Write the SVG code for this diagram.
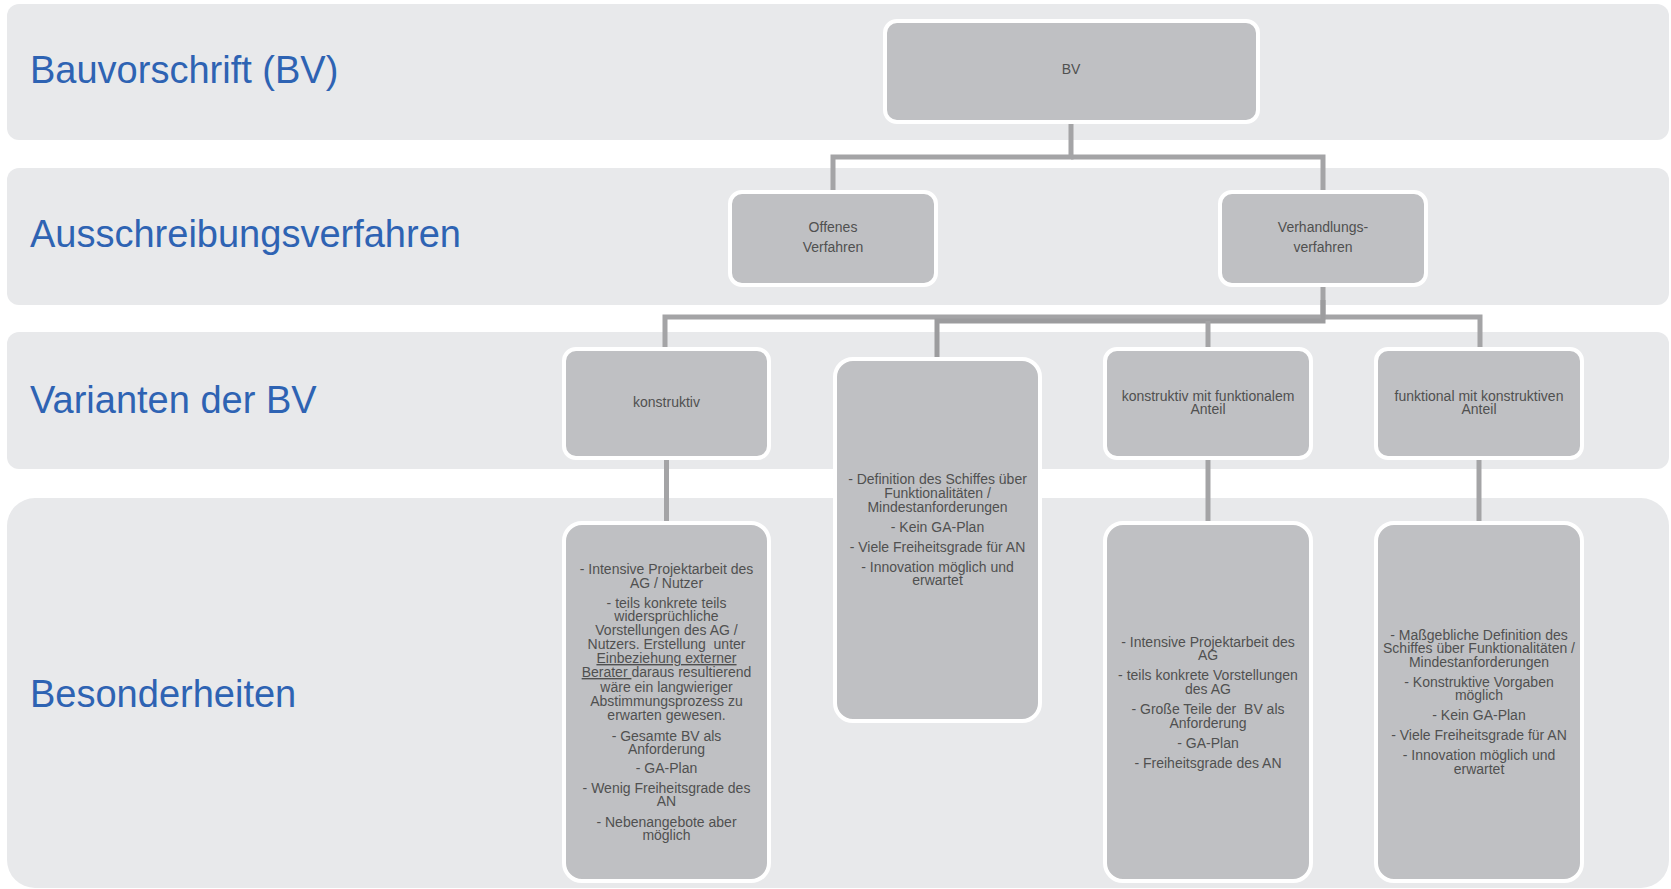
<svg xmlns="http://www.w3.org/2000/svg" width="1671" height="889" viewBox="0 0 1671 889">
<style>
.band{fill:#e8e9eb}
.lbl{font-family:"Liberation Sans",Arial,sans-serif;font-size:38px;fill:#2e63b3}
.box{fill:#bfc0c3;stroke:#ffffff;stroke-width:4}
.t{font-family:"Liberation Sans",Arial,sans-serif;font-size:14px;fill:#505050;text-anchor:middle}
.c{fill:none;stroke:#a4a4a6;stroke-width:5}
.cd{fill:none;stroke:#9c9c9e;stroke-width:5}
.u{text-decoration:underline}
</style>
<rect width="1671" height="889" fill="#ffffff"/>
<g id="lane-bv"><rect class="band" x="7" y="4" width="1662" height="136" rx="12"/><text class="lbl" x="30" y="83">Bauvorschrift (BV)</text></g>
<g id="lane-verfahren"><rect class="band" x="7" y="168" width="1662" height="137" rx="12"/><text class="lbl" x="30" y="247">Ausschreibungsverfahren</text></g>
<g id="lane-varianten"><rect class="band" x="7" y="332" width="1662" height="137" rx="12"/><text class="lbl" x="30" y="413">Varianten der BV</text></g>
<g id="lane-besonderheiten"><rect class="band" x="7" y="498" width="1662" height="390" rx="28"/><text class="lbl" x="30" y="707">Besonderheiten</text></g>

<g id="connectors">
<path class="c" d="M1071 124 V157 H833 V190"/>
<path class="c" d="M1071 157 H1323 V190"/>
<path class="c" d="M1323 287 V317 H665 V347"/>
<path class="c" d="M1323 317 H1480 V347"/>
<path class="cd" d="M1323 300 V321 H937 V357"/>
<path class="c" d="M1208 321 V347"/>
<path class="c" d="M666.5 460 V521"/>
<path class="c" d="M1208 460 V521"/>
<path class="c" d="M1479 460 V521"/>
</g>

<g id="node-bv"><rect class="box" x="885" y="21" width="373" height="101" rx="12"/><text class="t" x="1071" y="74">BV</text></g>
<g id="node-offen"><rect class="box" x="730" y="192" width="206" height="93" rx="12"/><text class="t" x="833" y="232">Offenes</text><text class="t" x="833" y="252">Verfahren</text></g>
<g id="node-verhandlung"><rect class="box" x="1220" y="192" width="206" height="93" rx="12"/><text class="t" x="1323" y="232">Verhandlungs-</text><text class="t" x="1323" y="252">verfahren</text></g>

<g id="node-konstruktiv"><rect class="box" x="564" y="349" width="205" height="109" rx="12"/><text class="t" x="666.5" y="407">konstruktiv</text></g>
<g id="node-funktional"><rect class="box" x="835" y="359" width="205" height="362" rx="18"/>
<text class="t" x="937.5" y="484">- Definition des Schiffes über</text>
<text class="t" x="937.5" y="498">Funktionalitäten /</text>
<text class="t" x="937.5" y="511.5">Mindestanforderungen</text>
<text class="t" x="937.5" y="531.5">- Kein GA-Plan</text>
<text class="t" x="937.5" y="551.5">- Viele Freiheitsgrade für AN</text>
<text class="t" x="937.5" y="571.5">- Innovation möglich und</text>
<text class="t" x="937.5" y="585">erwartet</text>
</g>
<g id="node-konstr-funkt"><rect class="box" x="1105" y="349" width="206" height="109" rx="12"/><text class="t" x="1208" y="401">konstruktiv mit funktionalem</text><text class="t" x="1208" y="414">Anteil</text></g>
<g id="node-funkt-konstr"><rect class="box" x="1376" y="349" width="206" height="109" rx="12"/><text class="t" x="1479" y="401">funktional mit konstruktiven</text><text class="t" x="1479" y="414">Anteil</text></g>

<g id="node-bes-konstruktiv"><rect class="box" x="564" y="523" width="205" height="358" rx="18"/>
<text class="t" x="666.5" y="574">- Intensive Projektarbeit des</text>
<text class="t" x="666.5" y="587.5">AG / Nutzer</text>
<text class="t" x="666.5" y="607.5">- teils konkrete teils</text>
<text class="t" x="666.5" y="621">widersprüchliche</text>
<text class="t" x="666.5" y="635">Vorstellungen des AG /</text>
<text class="t" x="666.5" y="649">Nutzers. Erstellung&#160; unter</text>
<text class="t" x="666.5" y="663"><tspan class="u">Einbeziehung externer</tspan></text>
<text class="t" x="666.5" y="677"><tspan class="u">Berater </tspan>daraus resultierend</text>
<text class="t" x="666.5" y="691.5">wäre ein langwieriger</text>
<text class="t" x="666.5" y="705.5">Abstimmungsprozess zu</text>
<text class="t" x="666.5" y="720">erwarten gewesen.</text>
<text class="t" x="666.5" y="740.5">- Gesamte BV als</text>
<text class="t" x="666.5" y="753.5">Anforderung</text>
<text class="t" x="666.5" y="772.5">- GA-Plan</text>
<text class="t" x="666.5" y="792.5">- Wenig Freiheitsgrade des</text>
<text class="t" x="666.5" y="806">AN</text>
<text class="t" x="666.5" y="826.5">- Nebenangebote aber</text>
<text class="t" x="666.5" y="840">möglich</text>
</g>
<g id="node-bes-konstr-funkt"><rect class="box" x="1105" y="523" width="206" height="358" rx="18"/>
<text class="t" x="1208" y="646.5">- Intensive Projektarbeit des</text>
<text class="t" x="1208" y="660">AG</text>
<text class="t" x="1208" y="680">- teils konkrete Vorstellungen</text>
<text class="t" x="1208" y="694">des AG</text>
<text class="t" x="1208" y="714">- Große Teile der&#160; BV als</text>
<text class="t" x="1208" y="728">Anforderung</text>
<text class="t" x="1208" y="748">- GA-Plan</text>
<text class="t" x="1208" y="767.5">- Freiheitsgrade des AN</text>
</g>
<g id="node-bes-funkt-konstr"><rect class="box" x="1376" y="523" width="206" height="358" rx="18"/>
<text class="t" x="1479" y="639.5">- Maßgebliche Definition des</text>
<text class="t" x="1479" y="653">Schiffes über Funktionalitäten /</text>
<text class="t" x="1479" y="666.5">Mindestanforderungen</text>
<text class="t" x="1479" y="686.5">- Konstruktive Vorgaben</text>
<text class="t" x="1479" y="700">möglich</text>
<text class="t" x="1479" y="720">- Kein GA-Plan</text>
<text class="t" x="1479" y="740">- Viele Freiheitsgrade für AN</text>
<text class="t" x="1479" y="760">- Innovation möglich und</text>
<text class="t" x="1479" y="773.5">erwartet</text>
</g>
</svg>
